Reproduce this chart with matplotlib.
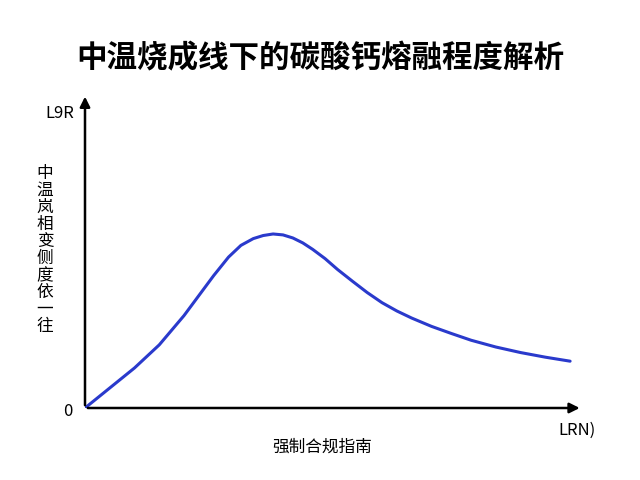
import matplotlib
matplotlib.use("Agg")
import matplotlib.pyplot as plt
import numpy as np

plt.rcParams['font.family'] = ['Noto Sans CJK SC', 'DejaVu Sans']

x = [0, 0.5, 1.0, 1.5, 2.0, 2.3, 2.6, 2.9, 3.15, 3.4, 3.6, 3.8, 4.0, 4.2, 4.4, 4.6, 4.85, 5.1, 5.4, 5.7, 6.0, 6.3, 6.6, 7.0, 7.4, 7.8, 8.3, 8.8, 9.3, 9.8]
y = [0, 0.65, 1.3, 2.05, 3.0, 3.65, 4.3, 4.9, 5.28, 5.5, 5.6, 5.65, 5.62, 5.52, 5.36, 5.15, 4.85, 4.5, 4.12, 3.75, 3.42, 3.15, 2.92, 2.65, 2.42, 2.2, 1.98, 1.8, 1.65, 1.52]

title = "中温烧成线下的碳酸钙熔融程度解析"
xlabel = "强制合规指南"
ylabel = "中温岚相变侧度依一往"

fig = plt.figure(figsize=(6.4, 4.8), dpi=100)
ax = fig.add_axes([85/640, 1-408/480, 495/640, 308/480])
ax.plot(x, y, color='#2a3acc', lw=2.2, solid_capstyle='round', solid_joinstyle='round')
ax.set_xlim(0, 10)
ax.set_ylim(0, 10)
for s in ax.spines.values():
    s.set_visible(False)
ax.set_xticks([]); ax.set_yticks([])
ax.annotate('', xy=(10.05, 0), xytext=(0, 0), xycoords='data',
            arrowprops=dict(arrowstyle='-|>', color='black', lw=1.8, mutation_scale=15), annotation_clip=False)
ax.annotate('', xy=(0, 10.2), xytext=(0, 0), xycoords='data',
            arrowprops=dict(arrowstyle='-|>', color='black', lw=1.8, mutation_scale=15), annotation_clip=False)

fig.text(0.5, 1-58/480, title, ha='center', va='center', fontsize=22, fontweight='bold')
fig.text(322/640, 1-447/480, xlabel, ha='center', va='center', fontsize=12)
fig.text(45/640, 1-250/480, "\n".join(ylabel), ha='center', va='center', fontsize=12, linespacing=1.0)
fig.text(60/640, 1-113/480, "L9R", ha='center', va='center', fontsize=12)
fig.text(68/640, 1-411/480, "0", ha='center', va='center', fontsize=12)
fig.text(577/640, 1-430/480, "LRN)", ha='center', va='center', fontsize=12)
fig.savefig("out.png", dpi=100)
